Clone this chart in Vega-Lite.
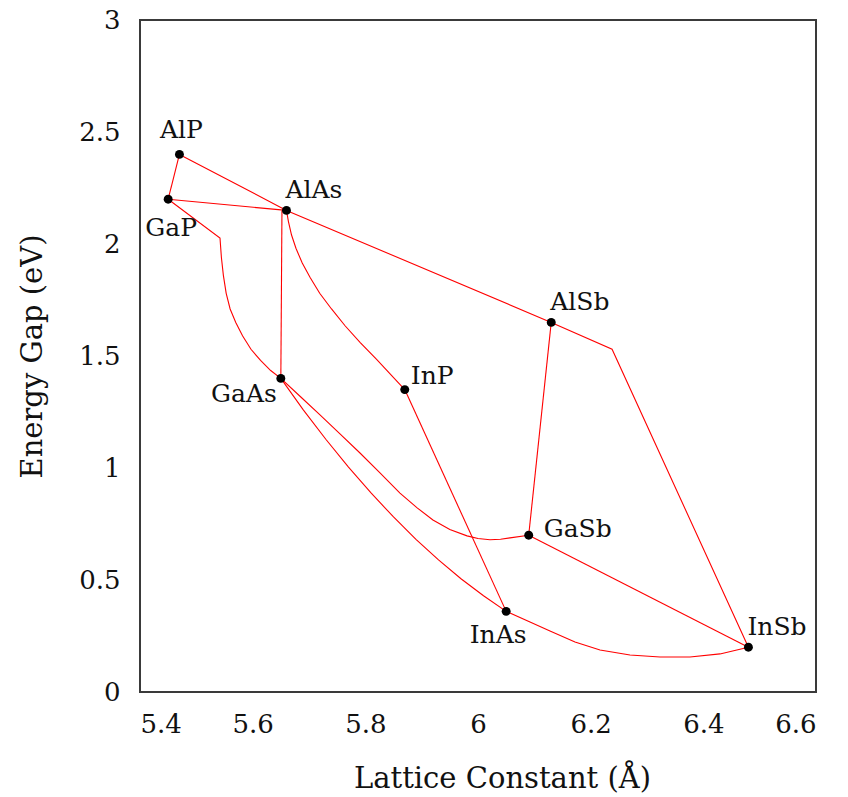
{
  "$schema": "https://vega.github.io/schema/vega-lite/v6.json",
  "width": 676,
  "height": 672,
  "autosize": "none",
  "padding": {"left": 140, "top": 20, "right": 32, "bottom": 105},
  "background": "white",
  "config": {
    "font": "DejaVu Serif",
    "view": {"stroke": "#3a3a3a", "strokeWidth": 2},
    "axis": {
      "grid": false,
      "domain": false,
      "ticks": false,
      "labelFont": "DejaVu Serif",
      "labelFontSize": 26,
      "labelColor": "#111",
      "titleFont": "DejaVu Serif",
      "titleFontSize": 29,
      "titleFontWeight": "normal",
      "titleColor": "#111"
    },
    "text": {"font": "DejaVu Serif", "fontSize": 25, "color": "#111"}
  },
  "datasets": {
    "lines": [
      {"seg": "AlP-GaP", "i": 0, "a": 5.47, "e": 2.40},
      {"seg": "AlP-GaP", "i": 1, "a": 5.45, "e": 2.20},
      {"seg": "Al-top", "i": 0, "a": 5.47, "e": 2.40},
      {"seg": "Al-top", "i": 1, "a": 5.66, "e": 2.15},
      {"seg": "Al-top", "i": 2, "a": 6.13, "e": 1.65},
      {"seg": "Al-top", "i": 3, "a": 6.238, "e": 1.53},
      {"seg": "Al-top", "i": 4, "a": 6.48, "e": 0.20},
      {"seg": "GaP-AlAs", "i": 0, "a": 5.45, "e": 2.20},
      {"seg": "GaP-AlAs", "i": 1, "a": 5.66, "e": 2.15},
      {"seg": "GaP-GaAs", "i": 0, "a": 5.45, "e": 2.20},
      {"seg": "GaP-GaAs", "i": 1, "a": 5.542, "e": 2.027},
      {"seg": "GaP-GaAs", "i": 2, "a": 5.5445, "e": 1.94},
      {"seg": "GaP-GaAs", "i": 3, "a": 5.548, "e": 1.86},
      {"seg": "GaP-GaAs", "i": 4, "a": 5.553, "e": 1.78},
      {"seg": "GaP-GaAs", "i": 5, "a": 5.560, "e": 1.71},
      {"seg": "GaP-GaAs", "i": 6, "a": 5.570, "e": 1.65},
      {"seg": "GaP-GaAs", "i": 7, "a": 5.582, "e": 1.59},
      {"seg": "GaP-GaAs", "i": 8, "a": 5.597, "e": 1.53},
      {"seg": "GaP-GaAs", "i": 9, "a": 5.614, "e": 1.48},
      {"seg": "GaP-GaAs", "i": 10, "a": 5.632, "e": 1.435},
      {"seg": "GaP-GaAs", "i": 11, "a": 5.65, "e": 1.40},
      {"seg": "AlAs-GaAs", "i": 0, "a": 5.652, "e": 2.15},
      {"seg": "AlAs-GaAs", "i": 1, "a": 5.65, "e": 1.40},
      {"seg": "AlAs-InP", "i": 0, "a": 5.66, "e": 2.15},
      {"seg": "AlAs-InP", "i": 1, "a": 5.6635, "e": 2.10},
      {"seg": "AlAs-InP", "i": 2, "a": 5.669, "e": 2.04},
      {"seg": "AlAs-InP", "i": 3, "a": 5.677, "e": 1.98},
      {"seg": "AlAs-InP", "i": 4, "a": 5.688, "e": 1.915},
      {"seg": "AlAs-InP", "i": 5, "a": 5.702, "e": 1.85},
      {"seg": "AlAs-InP", "i": 6, "a": 5.719, "e": 1.78},
      {"seg": "AlAs-InP", "i": 7, "a": 5.740, "e": 1.71},
      {"seg": "AlAs-InP", "i": 8, "a": 5.764, "e": 1.635},
      {"seg": "AlAs-InP", "i": 9, "a": 5.791, "e": 1.56},
      {"seg": "AlAs-InP", "i": 10, "a": 5.820, "e": 1.485},
      {"seg": "AlAs-InP", "i": 11, "a": 5.846, "e": 1.415},
      {"seg": "AlAs-InP", "i": 12, "a": 5.87, "e": 1.35},
      {"seg": "InP-InAs", "i": 0, "a": 5.87, "e": 1.35},
      {"seg": "InP-InAs", "i": 1, "a": 6.05, "e": 0.36},
      {"seg": "GaAs-InAs", "i": 0, "a": 5.65, "e": 1.40},
      {"seg": "GaAs-InAs", "i": 1, "a": 5.6902, "e": 1.2585},
      {"seg": "GaAs-InAs", "i": 2, "a": 5.7302, "e": 1.1272},
      {"seg": "GaAs-InAs", "i": 3, "a": 5.7701, "e": 1.004},
      {"seg": "GaAs-InAs", "i": 4, "a": 5.8101, "e": 0.8888},
      {"seg": "GaAs-InAs", "i": 5, "a": 5.85, "e": 0.7813},
      {"seg": "GaAs-InAs", "i": 6, "a": 5.8899, "e": 0.6817},
      {"seg": "GaAs-InAs", "i": 7, "a": 5.9299, "e": 0.5897},
      {"seg": "GaAs-InAs", "i": 8, "a": 5.9698, "e": 0.5058},
      {"seg": "GaAs-InAs", "i": 9, "a": 6.0098, "e": 0.4299},
      {"seg": "GaAs-InAs", "i": 10, "a": 6.05, "e": 0.36},
      {"seg": "GaAs-GaSb", "i": 0, "a": 5.65, "e": 1.40},
      {"seg": "GaAs-GaSb", "i": 1, "a": 5.685, "e": 1.318},
      {"seg": "GaAs-GaSb", "i": 2, "a": 5.7195, "e": 1.237},
      {"seg": "GaAs-GaSb", "i": 3, "a": 5.755, "e": 1.152},
      {"seg": "GaAs-GaSb", "i": 4, "a": 5.7905, "e": 1.067},
      {"seg": "GaAs-GaSb", "i": 5, "a": 5.826, "e": 0.978},
      {"seg": "GaAs-GaSb", "i": 6, "a": 5.8615, "e": 0.888},
      {"seg": "GaAs-GaSb", "i": 7, "a": 5.892, "e": 0.822},
      {"seg": "GaAs-GaSb", "i": 8, "a": 5.920, "e": 0.768},
      {"seg": "GaAs-GaSb", "i": 9, "a": 5.950, "e": 0.725},
      {"seg": "GaAs-GaSb", "i": 10, "a": 5.9805, "e": 0.697},
      {"seg": "GaAs-GaSb", "i": 11, "a": 6.000, "e": 0.685},
      {"seg": "GaAs-GaSb", "i": 12, "a": 6.0213, "e": 0.680},
      {"seg": "GaAs-GaSb", "i": 13, "a": 6.040, "e": 0.682},
      {"seg": "GaAs-GaSb", "i": 14, "a": 6.0568, "e": 0.688},
      {"seg": "GaAs-GaSb", "i": 15, "a": 6.09, "e": 0.70},
      {"seg": "AlSb-GaSb", "i": 0, "a": 6.13, "e": 1.65},
      {"seg": "AlSb-GaSb", "i": 1, "a": 6.09, "e": 0.70},
      {"seg": "GaSb-InSb", "i": 0, "a": 6.09, "e": 0.70},
      {"seg": "GaSb-InSb", "i": 1, "a": 6.48, "e": 0.20},
      {"seg": "InAs-InSb", "i": 0, "a": 6.05, "e": 0.36},
      {"seg": "InAs-InSb", "i": 1, "a": 6.0923, "e": 0.3125},
      {"seg": "InAs-InSb", "i": 2, "a": 6.1278, "e": 0.272},
      {"seg": "InAs-InSb", "i": 3, "a": 6.1722, "e": 0.223},
      {"seg": "InAs-InSb", "i": 4, "a": 6.2166, "e": 0.1875},
      {"seg": "InAs-InSb", "i": 5, "a": 6.2698, "e": 0.165},
      {"seg": "InAs-InSb", "i": 6, "a": 6.3231, "e": 0.156},
      {"seg": "InAs-InSb", "i": 7, "a": 6.3763, "e": 0.156},
      {"seg": "InAs-InSb", "i": 8, "a": 6.4296, "e": 0.170},
      {"seg": "InAs-InSb", "i": 9, "a": 6.48, "e": 0.20}
    ],
    "points": [
      {"name": "AlP", "a": 5.47, "e": 2.40},
      {"name": "GaP", "a": 5.45, "e": 2.20},
      {"name": "AlAs", "a": 5.66, "e": 2.15},
      {"name": "GaAs", "a": 5.65, "e": 1.40},
      {"name": "InP", "a": 5.87, "e": 1.35},
      {"name": "AlSb", "a": 6.13, "e": 1.65},
      {"name": "GaSb", "a": 6.09, "e": 0.70},
      {"name": "InAs", "a": 6.05, "e": 0.36},
      {"name": "InSb", "a": 6.48, "e": 0.20}
    ],
    "xticks": [{"v": 5.6}, {"v": 5.8}, {"v": 6.0}, {"v": 6.2}, {"v": 6.4}],
    "yticks": [{"v": 0.5}, {"v": 1.0}, {"v": 1.5}, {"v": 2.0}, {"v": 2.5}]
  },
  "encoding": {
    "x": {
      "field": "a", "type": "quantitative",
      "scale": {"domain": [5.4, 6.6], "nice": false, "zero": false},
      "axis": {
        "title": "Lattice Constant (Å)",
        "values": [5.4, 5.6, 5.8, 6.0, 6.2, 6.4, 6.6],
        "format": "~g",
        "labelPadding": 19,
        "labelBaseline": "top",
        "titleX": 362, "titleY": 95, "titleBaseline": "alphabetic", "titleAlign": "center"
      }
    },
    "y": {
      "field": "e", "type": "quantitative",
      "scale": {"domain": [0, 3], "nice": false},
      "axis": {
        "title": "Energy Gap (eV)",
        "values": [0, 0.5, 1, 1.5, 2, 2.5, 3],
        "format": "~g",
        "labelPadding": 20,
        "titleX": -99, "titleY": 336, "titleAngle": -90, "titleBaseline": "alphabetic", "titleAlign": "center"
      }
    }
  },
  "layer": [
    {
      "data": {"name": "xticks"},
      "mark": {"type": "rule", "color": "#3a3a3a", "strokeWidth": 1.5},
      "encoding": {
        "x": {"field": "v", "type": "quantitative"},
        "y": {"datum": 0},
        "y2": {"datum": 0.045}
      }
    },
    {
      "data": {"name": "yticks"},
      "mark": {"type": "rule", "color": "#3a3a3a", "strokeWidth": 1.5},
      "encoding": {
        "y": {"field": "v", "type": "quantitative"},
        "x": {"datum": 5.4},
        "x2": {"datum": 5.418}
      }
    },
    {
      "data": {"name": "lines"},
      "mark": {"type": "line", "color": "#ff0000", "strokeWidth": 1.1, "interpolate": "linear"},
      "encoding": {
        "detail": {"field": "seg"},
        "order": {"field": "i", "type": "quantitative"}
      }
    },
    {
      "data": {"name": "points"},
      "mark": {"type": "circle", "size": 80, "color": "#000", "opacity": 1},
      "encoding": {}
    },
    {
      "data": {"name": "points"},
      "transform": [{"filter": "indexof(['AlAs','AlSb','InSb'], datum.name) >= 0"}],
      "mark": {"type": "text", "align": "left", "baseline": "alphabetic", "dx": -1, "dy": -12},
      "encoding": {"text": {"field": "name"}}
    },
    {
      "data": {"name": "points"},
      "transform": [{"filter": "datum.name === 'InP'"}],
      "mark": {"type": "text", "align": "left", "baseline": "alphabetic", "dx": 6, "dy": -6},
      "encoding": {"text": {"field": "name"}}
    },
    {
      "data": {"name": "points"},
      "transform": [{"filter": "datum.name === 'GaSb'"}],
      "mark": {"type": "text", "align": "left", "baseline": "alphabetic", "dx": 15, "dy": 2},
      "encoding": {"text": {"field": "name"}}
    },
    {
      "data": {"name": "points"},
      "transform": [{"filter": "datum.name === 'AlP'"}],
      "mark": {"type": "text", "align": "center", "baseline": "alphabetic", "dx": 2, "dy": -16},
      "encoding": {"text": {"field": "name"}}
    },
    {
      "data": {"name": "points"},
      "transform": [{"filter": "datum.name === 'GaP'"}],
      "mark": {"type": "text", "align": "center", "baseline": "alphabetic", "dx": 3, "dy": 37},
      "encoding": {"text": {"field": "name"}}
    },
    {
      "data": {"name": "points"},
      "transform": [{"filter": "datum.name === 'InAs'"}],
      "mark": {"type": "text", "align": "center", "baseline": "alphabetic", "dx": -8, "dy": 32},
      "encoding": {"text": {"field": "name"}}
    },
    {
      "data": {"name": "points"},
      "transform": [{"filter": "datum.name === 'GaAs'"}],
      "mark": {"type": "text", "align": "right", "baseline": "alphabetic", "dx": -4, "dy": 24},
      "encoding": {"text": {"field": "name"}}
    }
  ]
}
